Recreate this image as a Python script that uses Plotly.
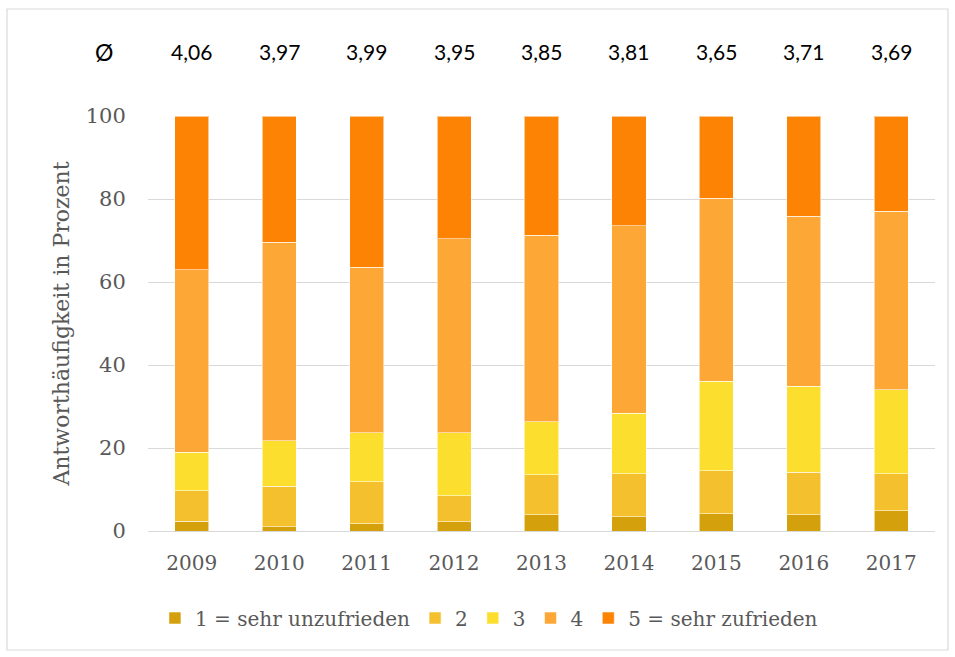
import plotly.graph_objects as go

years = ["2009", "2010", "2011", "2012", "2013", "2014", "2015", "2016", "2017"]
means = ["4,06", "3,97", "3,99", "3,95", "3,85", "3,81", "3,65", "3,71", "3,69"]
s1 = [2.4, 1.0, 1.7, 2.2, 3.9, 3.4, 4.2, 3.9, 4.9]
s2 = [7.3, 9.8, 10.2, 6.3, 9.7, 10.4, 10.3, 10.3, 8.9]
s3 = [9.3, 11.0, 11.8, 15.2, 12.7, 14.6, 21.6, 20.7, 20.2]
s4 = [43.9, 47.8, 39.9, 46.7, 45.0, 45.1, 44.1, 41.0, 43.1]
s5 = [37.1, 30.4, 36.4, 29.6, 28.7, 26.5, 19.8, 24.1, 22.9]
names = ["1 = sehr unzufrieden", "2", "3", "4", "5 = sehr zufrieden"]
series = [s1, s2, s3, s4, s5]
colors = ["#D4A00C", "#F4C02E", "#FCDF2E", "#FDA736", "#FD8304"]

W, H = 955, 657
ML, MR, MT, MB = 148, 20, 116, 126
serif = "DejaVu Serif"
gray = "#595959"
pw = W - ML - MR
ph = H - MT - MB

fig = go.Figure()
for nm, vals, c in zip(names, series, colors):
    fig.add_trace(go.Bar(
        x=years, y=vals, name=nm,
        marker=dict(color=c, line=dict(color="rgba(255,255,255,0.55)", width=1)),
    ))

# mean annotations above the bars (category index positions)
ann_y = (H - MB - 52) / ph
for i, m in enumerate(means):
    fig.add_annotation(x=i, y=ann_y, xref="x", yref="paper", text=m, showarrow=False,
                       xanchor="center", yanchor="middle",
                       font=dict(family="Lato", size=21, color="#000000"))
fig.add_annotation(x=(104 - ML) / pw, y=ann_y, xref="paper", yref="paper",
                   text="Ø", showarrow=False, xanchor="center", yanchor="middle",
                   font=dict(family="Lato", size=23, color="#000000"))

fig.add_shape(type="rect", xref="paper", yref="paper",
              x0=(7 - ML) / pw, x1=(948 - ML) / pw,
              y0=(H - MB - 650) / ph, y1=(H - MB - 9) / ph,
              line=dict(color="#D9D9D9", width=1.2), fillcolor="rgba(0,0,0,0)", layer="below")

fig.update_layout(
    width=W, height=H,
    margin=dict(l=ML, r=MR, t=MT, b=MB, autoexpand=False),
    barmode="stack", bargap=0.61,
    plot_bgcolor="white", paper_bgcolor="white",
    font=dict(family=serif, color=gray, size=20),
    legend=dict(orientation="h", xref="container", yref="container",
                x=0.512, y=1 - 618 / H, xanchor="center", yanchor="middle",
                font=dict(family=serif, size=20, color=gray),
                itemclick=False, traceorder="normal"),
    xaxis=dict(type="category", range=[-0.5, len(years) - 0.5],
               showgrid=False, showline=False, ticks="outside", ticklen=14,
               tickcolor="rgba(0,0,0,0)", tickfont=dict(size=20, color=gray)),
    yaxis=dict(range=[0, 100], tickvals=[0, 20, 40, 60, 80, 100],
               showgrid=True, gridcolor="#D9D9D9", gridwidth=1.3,
               zeroline=True, zerolinecolor="#D9D9D9", zerolinewidth=1.3,
               showline=False, ticks="outside", ticklen=17, tickcolor="rgba(0,0,0,0)",
               tickfont=dict(size=21, color=gray),
               title=dict(text="Antworthäufigkeit in Prozent", standoff=10,
                          font=dict(size=22, color=gray))),
)

fig.write_html("out.html", config={"displayModeBar": False},
               post_script="document.body.style.margin='0';")
